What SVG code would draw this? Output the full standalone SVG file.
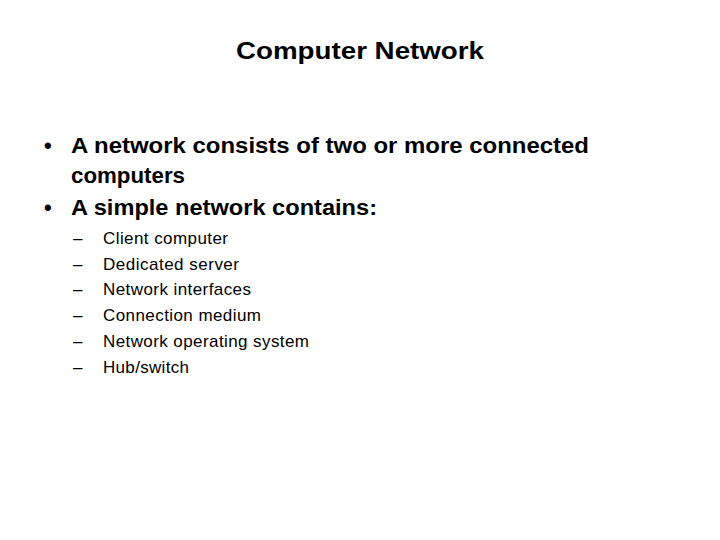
<svg xmlns="http://www.w3.org/2000/svg" width="720" height="540" viewBox="0 0 720 540">
<style>
text{font-family:"Liberation Sans",Arial,sans-serif;fill:#000}
.t{font-size:24px;font-weight:bold}
.b{font-size:22px;font-weight:bold}
.s{font-size:17px}
</style>
<rect width="720" height="540" fill="#fff"/>
<text class="t" x="236" y="59" textLength="248" lengthAdjust="spacingAndGlyphs">Computer Network</text>
<text class="b" x="44" y="153">•</text>
<text class="b" x="71" y="153" textLength="518" lengthAdjust="spacingAndGlyphs">A network consists of two or more connected</text>
<text class="b" x="71" y="183" textLength="114" lengthAdjust="spacingAndGlyphs">computers</text>
<text class="b" x="44" y="215">•</text>
<text class="b" x="71" y="215" textLength="306" lengthAdjust="spacingAndGlyphs">A simple network contains:</text>
<g class="s">
<text x="73" y="244">–</text><text x="103" y="244" textLength="125">Client computer</text>
<text x="73" y="270">–</text><text x="103" y="270" textLength="136">Dedicated server</text>
<text x="73" y="295">–</text><text x="103" y="295" textLength="148">Network interfaces</text>
<text x="73" y="321">–</text><text x="103" y="321" textLength="158">Connection medium</text>
<text x="73" y="347">–</text><text x="103" y="347" textLength="206">Network operating system</text>
<text x="73" y="373">–</text><text x="103" y="373" textLength="86">Hub/switch</text>
</g>
</svg>
